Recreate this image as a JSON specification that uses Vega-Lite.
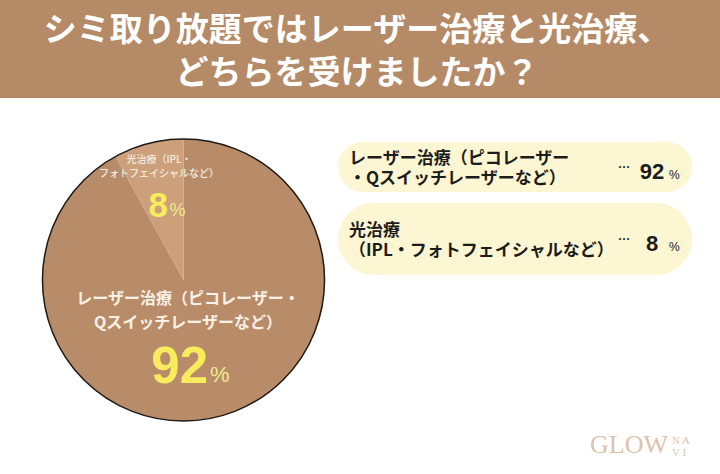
{
  "$schema": "https://vega.github.io/schema/vega-lite/v6.json",
  "background": "#ffffff",
  "padding": 0,
  "spacing": 0,
  "bounds": "flush",
  "config": {"view": {"stroke": null}, "font": "Noto Sans CJK JP"},
  "datasets": {
    "shares": [
      {"category": "レーザー治療", "value": 92, "pieLabel": "レーザー治療（ピコレーザー・\nQスイッチレーザーなど）", "legendLabel": "レーザー治療（ピコレーザー\n・Qスイッチレーザーなど）"},
      {"category": "光治療", "value": 8, "pieLabel": "光治療（IPL・\nフォトフェイシャルなど）", "legendLabel": "光治療\n（IPL・フォトフェイシャルなど）"}
    ]
  },
  "vconcat": [
    {
      "width": 720,
      "height": 98,
      "view": {"fill": "#b58a67", "stroke": null},
      "data": {"values": [{"title": "シミ取り放題ではレーザー治療と光治療、\nどちらを受けましたか？"}]},
      "mark": {"type": "text", "lineBreak": "\n", "lineHeight": 43, "fontSize": 33, "fontWeight": "bold", "color": "#ffffff", "align": "center", "baseline": "middle", "dx": -3, "dy": -18},
      "encoding": {"text": {"field": "title"}}
    },
    {
      "spacing": 0,
      "bounds": "flush",
      "hconcat": [
        {
          "width": 367,
          "height": 364,
          "data": {"name": "shares"},
          "layer": [
            {
              "mark": {"type": "arc", "radius": 141, "stroke": null},
              "encoding": {
                "theta": {"field": "value", "type": "quantitative", "stack": true},
                "order": {"field": "value", "sort": "descending"},
                "color": {"field": "category", "type": "nominal", "legend": null,
                  "scale": {"domain": ["レーザー治療", "光治療"], "range": ["#b88c69", "#cba07b"]}}
              }
            },
            {
              "mark": {"type": "arc", "radius": 141, "fill": null, "filled": false, "stroke": "#1e1a17", "strokeWidth": 1.5},
              "encoding": {
                "theta": {"aggregate": "sum", "field": "value", "type": "quantitative"}
              }
            },
            {
              "transform": [{"filter": "datum.category === '光治療'"}],
              "layer": [
                {
                  "mark": {"type": "text", "lineBreak": "\n", "lineHeight": 14, "fontSize": 10, "fontWeight": 500, "color": "#f4ece0", "align": "center", "baseline": "middle", "dx": -24.5, "dy": -120},
                  "encoding": {"text": {"field": "pieLabel"}}
                },
                {
                  "mark": {"type": "text", "font": "Liberation Sans", "fontSize": 35, "fontWeight": "bold", "color": "#f7eb5e", "align": "right", "baseline": "alphabetic", "dx": -15.5, "dy": -63},
                  "encoding": {"text": {"field": "value"}}
                },
                {
                  "mark": {"type": "text", "text": "%", "font": "Liberation Sans", "fontSize": 18, "color": "#f3e88a", "align": "left", "baseline": "alphabetic", "dx": -14, "dy": -64}
                }
              ]
            },
            {
              "transform": [{"filter": "datum.category === 'レーザー治療'"}],
              "layer": [
                {
                  "mark": {"type": "text", "lineBreak": "\n", "lineHeight": 24, "fontSize": 16, "fontWeight": "bold", "color": "#f8f1e6", "align": "center", "baseline": "middle", "dx": 4.5, "dy": 19},
                  "encoding": {"text": {"field": "pieLabel"}}
                },
                {
                  "mark": {"type": "text", "font": "Liberation Sans", "fontSize": 51, "fontWeight": "bold", "color": "#f7eb5e", "align": "right", "baseline": "alphabetic", "dx": 24.5, "dy": 103},
                  "encoding": {"text": {"field": "value"}}
                },
                {
                  "mark": {"type": "text", "text": "%", "font": "Liberation Sans", "fontSize": 22, "color": "#f3e88a", "align": "left", "baseline": "alphabetic", "dx": 26.5, "dy": 102}
                }
              ]
            }
          ]
        },
        {
          "width": 325,
          "height": 364,
          "layer": [
            {
              "data": {"name": "shares"},
              "encoding": {
                "y": {"field": "category", "type": "nominal", "sort": ["レーザー治療", "光治療"], "axis": null,
                  "scale": {"range": [0, 210], "paddingInner": 0, "paddingOuter": 0.458}}
              },
              "layer": [
                {
                  "mark": {"type": "bar", "orient": "horizontal", "color": "#fcf6d2", "cornerRadius": 36, "xOffset": -29},
                  "encoding": {
                    "x": {"value": 0},
                    "x2": {"value": "width"},
                    "size": {"field": "category", "type": "ordinal", "legend": null,
                      "scale": {"type": "ordinal", "domain": ["レーザー治療", "光治療"], "range": [50, 72]}}
                  }
                },
                {
                  "mark": {"type": "text", "lineBreak": "\n", "lineHeight": 20, "fontSize": 17, "fontWeight": "bold", "color": "#1c1c1c", "align": "left", "baseline": "middle", "dx": -18, "dy": -8},
                  "encoding": {"x": {"value": 0}, "text": {"field": "legendLabel"}}
                },
                {
                  "mark": {"type": "text", "text": "…", "fontSize": 12, "fontWeight": "bold", "color": "#1c1c1c", "align": "center", "baseline": "middle", "dx": -68, "dy": 1},
                  "encoding": {"x": {"value": "width"}}
                },
                {
                  "mark": {"type": "text", "font": "Liberation Sans", "fontSize": 22, "fontWeight": "bold", "color": "#1c1c1c", "align": "center", "baseline": "alphabetic", "dx": -40, "dy": 12},
                  "encoding": {"x": {"value": "width"}, "text": {"field": "value"}}
                },
                {
                  "mark": {"type": "text", "text": "%", "font": "Liberation Sans", "fontSize": 12, "color": "#1c1c1c", "align": "left", "baseline": "alphabetic", "dx": -23, "dy": 12},
                  "encoding": {"x": {"value": "width"}}
                }
              ]
            },
            {
              "data": {"values": [{"brand": "GLOW", "sub": "N A\nV I"}]},
              "layer": [
                {
                  "mark": {"type": "text", "font": "Liberation Serif", "fontSize": 26, "color": "#dcc3ad", "align": "right", "baseline": "alphabetic", "dx": -24, "dy": -9},
                  "encoding": {"x": {"value": "width"}, "y": {"value": "height"}, "text": {"field": "brand"}}
                },
                {
                  "mark": {"type": "text", "font": "Liberation Serif", "fontSize": 11, "lineHeight": 12, "lineBreak": "\n", "color": "#dcc3ad", "align": "left", "baseline": "top", "dx": -20, "dy": -27},
                  "encoding": {"x": {"value": "width"}, "y": {"value": "height"}, "text": {"field": "sub"}}
                }
              ]
            }
          ]
        }
      ]
    }
  ]
}
